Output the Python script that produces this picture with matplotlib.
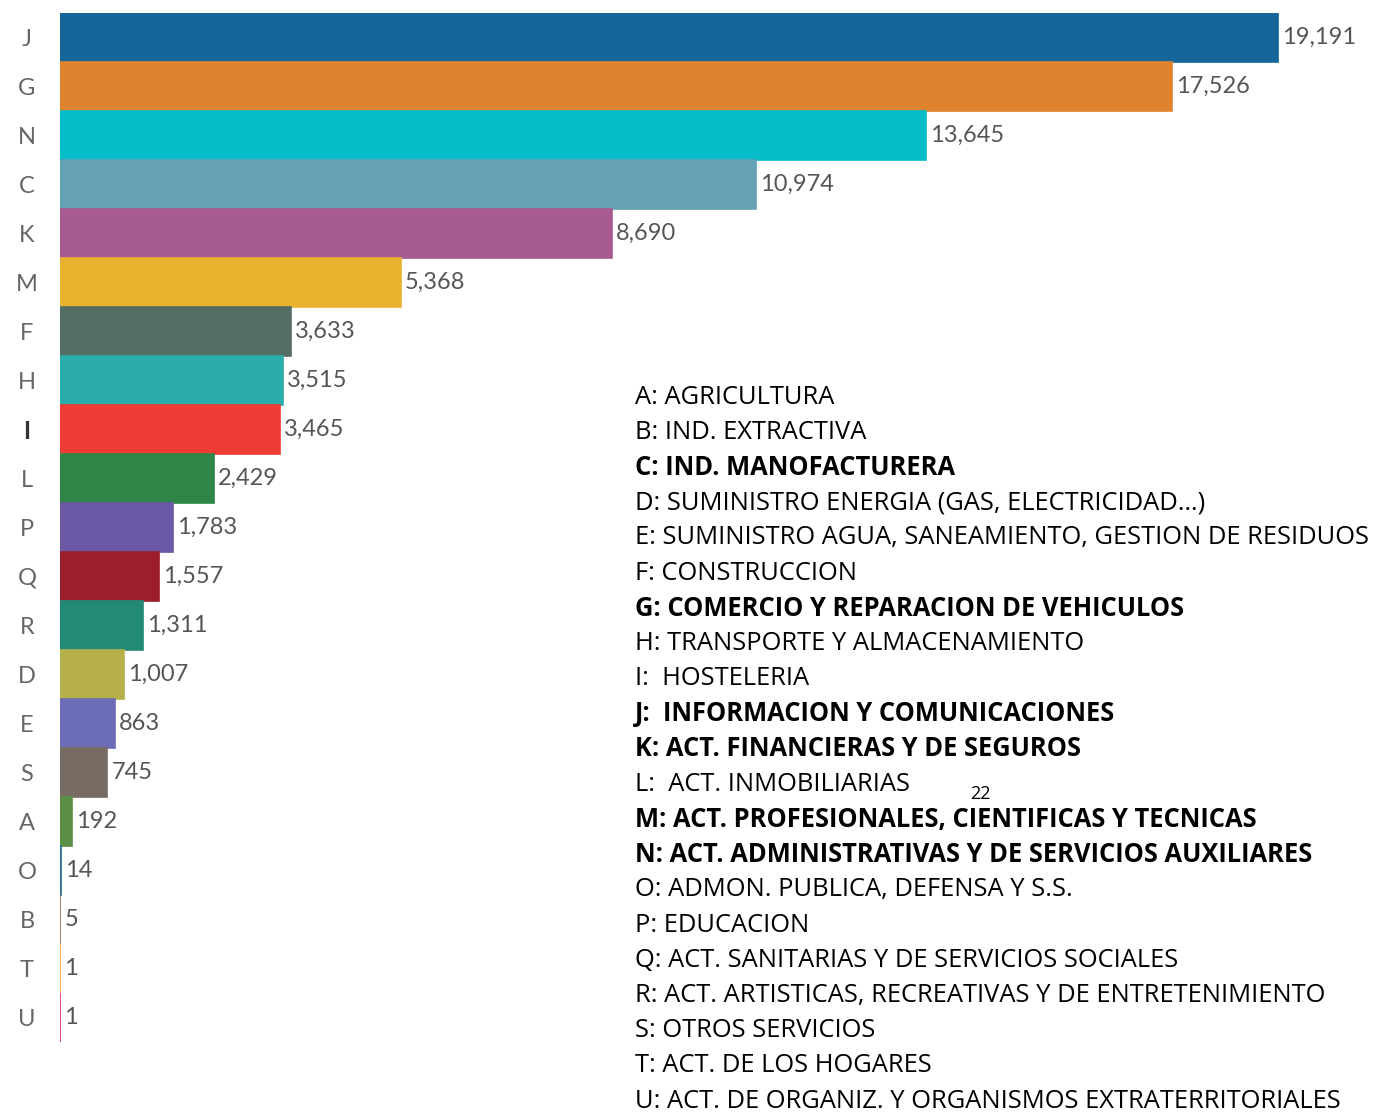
import matplotlib
matplotlib.use("Agg")
import matplotlib.pyplot as plt

codes = ["J", "G", "N", "C", "K", "M", "F", "H", "I", "L", "P", "Q", "R", "D", "E", "S", "A", "O", "B", "T", "U"]
values = [19191, 17526, 13645, 10974, 8690, 5368, 3633, 3515, 3465, 2429, 1783, 1557, 1311, 1007, 863, 745, 192, 14, 5, 1, 1]
colors = ["#17669b", "#e0832f", "#06bcc6", "#65a0b4", "#a85b90", "#e8b22f", "#546e66", "#2aacab",
          "#ee3b35", "#2e8646", "#6c59a6", "#9c1e2a", "#248a78", "#b5b04a", "#6c6cb7", "#786c62",
          "#5b8f46", "#2a7090", "#a06a52", "#f0a040", "#d03060"]

legend_lines = [
    "A: AGRICULTURA",
    "B: IND. EXTRACTIVA",
    "C: IND. MANOFACTURERA",
    "D: SUMINISTRO ENERGIA (GAS, ELECTRICIDAD…)",
    "E: SUMINISTRO AGUA, SANEAMIENTO, GESTION DE RESIDUOS",
    "F: CONSTRUCCION",
    "G: COMERCIO Y REPARACION DE VEHICULOS",
    "H: TRANSPORTE Y ALMACENAMIENTO",
    "I:  HOSTELERIA",
    "J:  INFORMACION Y COMUNICACIONES",
    "K: ACT. FINANCIERAS Y DE SEGUROS",
    "L:  ACT. INMOBILIARIAS",
    "M: ACT. PROFESIONALES, CIENTIFICAS Y TECNICAS",
    "N: ACT. ADMINISTRATIVAS Y DE SERVICIOS AUXILIARES",
    "O: ADMON. PUBLICA, DEFENSA Y S.S.",
    "P: EDUCACION",
    "Q: ACT. SANITARIAS Y DE SERVICIOS SOCIALES",
    "R: ACT. ARTISTICAS, RECREATIVAS Y DE ENTRETENIMIENTO",
    "S: OTROS SERVICIOS",
    "T: ACT. DE LOS HOGARES",
    "U: ACT. DE ORGANIZ. Y ORGANISMOS EXTRATERRITORIALES",
]
bold_codes = ["C", "G", "J", "K", "M", "N"]
page_number = "22"

W, H = 1383, 1112
fig = plt.figure(figsize=(W / 100, H / 100), dpi=100)
ax_left, ax_right = 60, 1383
ax_top, ax_bot = 13, 1042
ax = fig.add_axes([ax_left / W, 1 - ax_bot / H, (ax_right - ax_left) / W, (ax_bot - ax_top) / H])

n = len(codes)
ypos = list(range(n))
ax.barh(ypos, values, height=1.0, color=colors, edgecolor=colors, linewidth=1.2)
ax.set_ylim(n - 0.5, -0.5)
px_per_unit = (1278 - 60) / 19191
ax.set_xlim(0, (ax_right - ax_left) / px_per_unit)

for s in ax.spines.values():
    s.set_visible(False)
ax.set_xticks([])
ax.set_yticks(ypos)
ax.set_yticklabels(codes, fontsize=17, color="#666666", family="Lato")
ax.tick_params(axis="y", length=0, pad=33 * 72 / 100)
for lbl in ax.get_yticklabels():
    lbl.set_horizontalalignment("center")
    if lbl.get_text() == "I":
        lbl.set_fontweight("bold")
        lbl.set_color("#333333")

for y, v in zip(ypos, values):
    ax.annotate(f"{v:,}", xy=(v, y), xytext=(4, 0), textcoords="offset pixels",
                va="center", ha="left", fontsize=17, color="#555555", family="Lato")

y0, dy = 397, (1101 - 397) / 20
for i, line in enumerate(legend_lines):
    code = line.split(":")[0]
    fig.text(635 / W, 1 - (y0 + i * dy) / H, line, ha="left", va="center",
             fontsize=18.4, family="Open Sans", color="#000000",
             fontweight="bold" if code in bold_codes else "normal")

fig.text(980 / W, 1 - 794 / H, page_number, ha="center", va="center", fontsize=13, family="Open Sans")

fig.savefig("out.png", dpi=100)
